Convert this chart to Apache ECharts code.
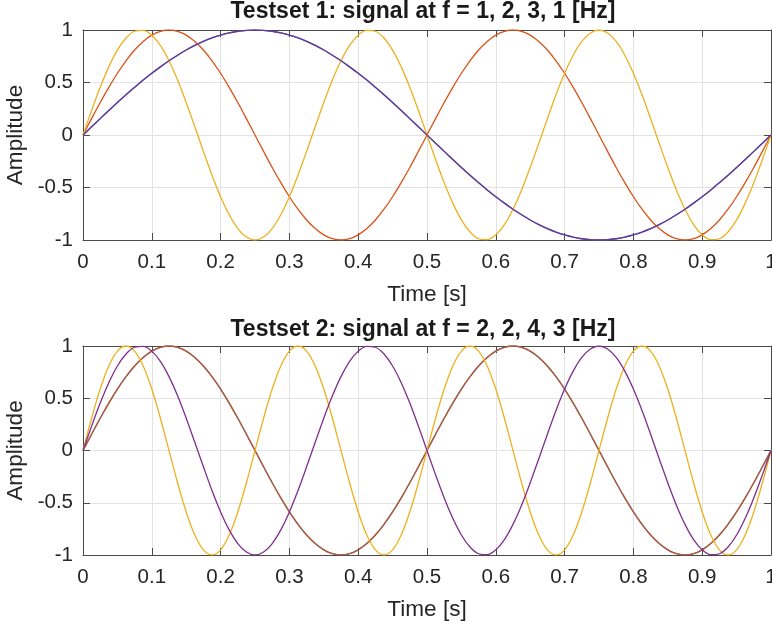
<!DOCTYPE html>
<html>
<head>
<meta charset="utf-8">
<script src="https://cdn.jsdelivr.net/npm/echarts@6/dist/echarts.min.js"></script>
<style>html,body{margin:0;padding:0;background:#fff}#c{width:772px;height:630px}</style>
</head>
<body>
<div id="c"></div>
<script>
// Sampled signal values (amplitude) read at 0.0125 s steps from t = 0 to t = 1 s
const sigF1 = [0,.079,.156,.233,.309,.383,.454,.523,.588,.649,.707,.760,.809,.853,.891,.924,.951,.972,.988,.997,1,
  .997,.988,.972,.951,.924,.891,.853,.809,.760,.707,.649,.588,.523,.454,.383,.309,.233,.156,.079,0,
  -.079,-.156,-.233,-.309,-.383,-.454,-.523,-.588,-.649,-.707,-.760,-.809,-.853,-.891,-.924,-.951,-.972,-.988,-.997,-1,
  -.997,-.988,-.972,-.951,-.924,-.891,-.853,-.809,-.760,-.707,-.649,-.588,-.523,-.454,-.383,-.309,-.233,-.156,-.079,0];
const sigF2 = [0,.156,.309,.454,.588,.707,.809,.891,.951,.988,1,.988,.951,.891,.809,.707,.588,.454,.309,.156,0,
  -.156,-.309,-.454,-.588,-.707,-.809,-.891,-.951,-.988,-1,-.988,-.951,-.891,-.809,-.707,-.588,-.454,-.309,-.156,0,
  .156,.309,.454,.588,.707,.809,.891,.951,.988,1,.988,.951,.891,.809,.707,.588,.454,.309,.156,0,
  -.156,-.309,-.454,-.588,-.707,-.809,-.891,-.951,-.988,-1,-.988,-.951,-.891,-.809,-.707,-.588,-.454,-.309,-.156,0];
const sigF3 = [0,.233,.454,.649,.809,.924,.988,.997,.951,.853,.707,.523,.309,.079,
  -.156,-.383,-.588,-.760,-.891,-.972,-1,-.972,-.891,-.760,-.588,-.383,-.156,
  .079,.309,.523,.707,.853,.951,.997,.988,.924,.809,.649,.454,.233,0,
  -.233,-.454,-.649,-.809,-.924,-.988,-.997,-.951,-.853,-.707,-.523,-.309,-.079,
  .156,.383,.588,.760,.891,.972,1,.972,.891,.760,.588,.383,.156,
  -.079,-.309,-.523,-.707,-.853,-.951,-.997,-.988,-.924,-.809,-.649,-.454,-.233,0];
const sigF4 = [0,.309,.588,.809,.951,1,.951,.809,.588,.309,0,-.309,-.588,-.809,-.951,-1,-.951,-.809,-.588,-.309,
  0,.309,.588,.809,.951,1,.951,.809,.588,.309,0,-.309,-.588,-.809,-.951,-1,-.951,-.809,-.588,-.309,
  0,.309,.588,.809,.951,1,.951,.809,.588,.309,0,-.309,-.588,-.809,-.951,-1,-.951,-.809,-.588,-.309,
  0,.309,.588,.809,.951,1,.951,.809,.588,.309,0,-.309,-.588,-.809,-.951,-1,-.951,-.809,-.588,-.309,0];

const timeSec = sigF1.map((_, i) => i / 80);

const titles = ['Testset 1: signal at f = 1, 2, 3, 1 [Hz]', 'Testset 2: signal at f = 2, 2, 4, 3 [Hz]'];
const xLabel = 'Time [s]';
const yLabel = 'Amplitude';
const testset1 = [sigF1, sigF2, sigF3, sigF1];
const testset2 = [sigF2, sigF2, sigF4, sigF3];

const lineColors = ['#0072BD', '#D95319', '#EDB120', '#7E2F8E'];
const FONT = 'Liberation Sans, Arial, Helvetica, sans-serif';
const TXT = '#262626';
const AX = '#4a4a4a';

const pair = arr => arr.map((v, i) => [timeSec[i], v]);

const grids = [
  {left: 83, width: 688, top: 30, height: 210, containLabel: false, outerBoundsMode: 'none'},
  {left: 83, width: 688, top: 346, height: 209, containLabel: false, outerBoundsMode: 'none'}
];

function xAxes(gi) {
  return [{
    gridIndex: gi, type: 'value', min: 0, max: 1, interval: 0.1, position: 'bottom',
    name: xLabel, nameLocation: 'middle', nameGap: 43,
    nameTextStyle: {fontFamily: FONT, fontSize: 22.6, color: TXT},
    axisLine: {onZero: false, lineStyle: {color: AX, width: 1}},
    axisTick: {inside: true, length: 7, lineStyle: {color: AX}},
    axisLabel: {fontFamily: FONT, fontSize: 20.5, color: TXT, margin: 12, hideOverlap: false,
      formatter: v => String(Math.round(v * 10) / 10)},
    splitLine: {show: true, lineStyle: {color: '#e3e3e3', width: 1}}
  }, {
    gridIndex: gi, type: 'value', min: 0, max: 1, interval: 0.1, position: 'top',
    axisLine: {onZero: false, lineStyle: {color: AX, width: 1}},
    axisTick: {inside: true, length: 7, lineStyle: {color: AX}},
    axisLabel: {show: false}, splitLine: {show: false}
  }];
}
function yAxes(gi) {
  return [{
    gridIndex: gi, type: 'value', min: -1, max: 1, interval: 0.5, position: 'left',
    name: yLabel, nameLocation: 'middle', nameGap: 47,
    nameTextStyle: {fontFamily: FONT, fontSize: 22.6, color: TXT},
    axisLine: {show: true, onZero: false, lineStyle: {color: AX, width: 1}},
    axisTick: {show: true, inside: true, length: 7, lineStyle: {color: AX}},
    axisLabel: {fontFamily: FONT, fontSize: 20.5, color: TXT, margin: 10},
    splitLine: {show: true, lineStyle: {color: '#e3e3e3', width: 1}}
  }, {
    gridIndex: gi, type: 'value', min: -1, max: 1, interval: 0.5, position: 'right',
    axisLine: {show: true, onZero: false, lineStyle: {color: AX, width: 1}},
    axisTick: {show: true, inside: true, length: 7, lineStyle: {color: AX}},
    axisLabel: {show: false}, splitLine: {show: false}
  }];
}

function makeSeries(set, gi, topOpacity) {
  return set.map((arr, si) => ({
    type: 'line', xAxisIndex: gi * 2, yAxisIndex: gi * 2,
    data: pair(arr), smooth: 0.35, showSymbol: false, symbol: 'none',
    lineStyle: {color: lineColors[si], width: 1.3, opacity: topOpacity[si]},
    itemStyle: {color: lineColors[si]},
    animation: false, silent: true, z: 2 + si
  }));
}

const chart = echarts.init(document.getElementById('c'), null, {renderer: 'canvas'});
chart.setOption({
  backgroundColor: '#ffffff',
  animation: false,
  title: [
    {text: titles[0], left: 423, top: 0, textAlign: 'center', padding: 0,
      textStyle: {fontFamily: FONT, fontSize: 23, fontWeight: 'bold', color: '#1a1a1a'}},
    {text: titles[1], left: 423, top: 318, textAlign: 'center', padding: 0,
      textStyle: {fontFamily: FONT, fontSize: 23, fontWeight: 'bold', color: '#1a1a1a'}}
  ],
  grid: grids,
  xAxis: [...xAxes(0), ...xAxes(1)],
  yAxis: [...yAxes(0), ...yAxes(1)],
  series: [
    ...makeSeries(testset1, 0, [1, 1, 1, 0.9]),
    ...makeSeries(testset2, 1, [1, 0.9, 1, 1])
  ]
});
</script>
</body>
</html>
